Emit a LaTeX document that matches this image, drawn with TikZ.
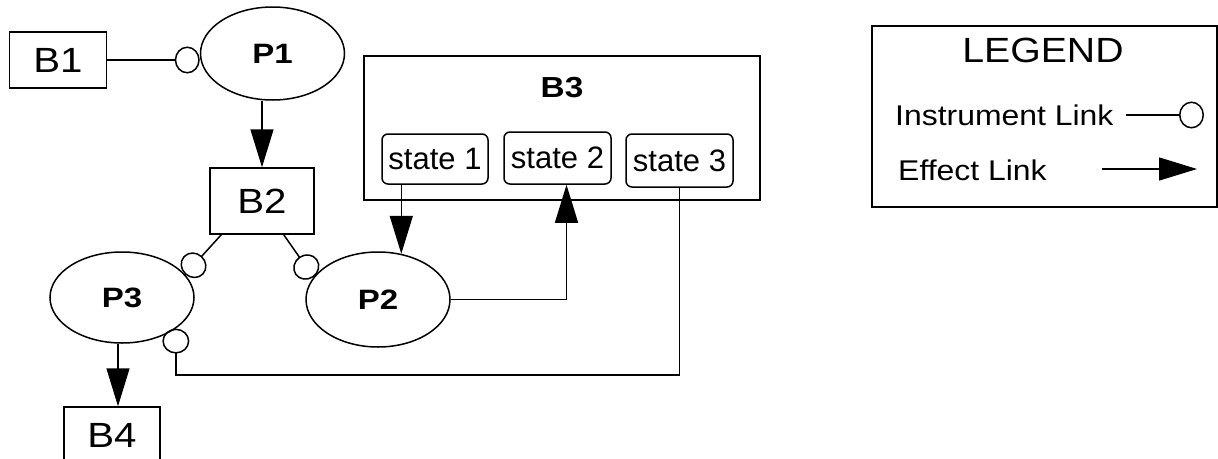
\documentclass[tikz,border=0pt]{standalone}
\usepackage{fontspec}
\setmainfont{Liberation Sans}
\newfontfamily\wideB[FakeStretch=1.15]{Liberation Sans}
\newfontfamily\wideP[FakeStretch=1.18]{Liberation Sans}
\newfontfamily\wideL[FakeStretch=1.12]{Liberation Sans}
\usetikzlibrary{arrows.meta,shapes.geometric,calc}
\newcommand{\fsz}[1]{\fontsize{#1}{#1}\selectfont}
\tikzset{
  ln/.style={line width=1.5pt},
  box/.style={ln, draw, rectangle, inner sep=0pt, font=\wideB\fsz{35}},
  proc/.style={ln, draw, ellipse, inner sep=0pt, minimum width=144pt, font=\wideP\fsz{28}\bfseries},
  stbox/.style={ln, draw, rectangle, rounded corners=6pt, inner sep=0pt, font=\fsz{31}},
  inst/.style={ln, -{Circle[open,length=25pt,width=27pt,line width=1.5pt]}},
  eff/.style={ln, -{Triangle[length=38pt,width=23pt]}},
}
\begin{document}
\begin{tikzpicture}[x=1pt,y=-1pt]
\useasboundingbox (0,0) rectangle (1218,458);
\clip (0,0) rectangle (1218,458);
% objects
\node[box, minimum width=97pt, minimum height=56pt] (B1) at (58,60) {B1};
\node[proc, minimum height=93pt] (P1) at (272.5,53.5) {P1};
\node[box, minimum width=104pt, minimum height=66pt] (B2) at (262,201) {B2};
\node[proc, minimum height=91pt] (P3) at (122,297.5) {P3};
\node[proc, minimum height=95pt] (P2) at (378,299.5) {P2};
\node[box, minimum width=96pt, minimum height=56pt] (B4) at (112,435) {B4};
\node[box, minimum width=396pt, minimum height=144pt] (B3) at (562,128) {};
\node[font=\wideB\fsz{29}\bfseries] (B3t) at (562,88) {B3};
\node[stbox, minimum width=106pt, minimum height=50pt] (s1) at (435,159) {state 1};
\node[stbox, minimum width=107pt, minimum height=52pt] (s2) at (557.5,158) {state 2};
\node[stbox, minimum width=107pt, minimum height=53pt] (s3) at (679.5,160.5) {state 3};
% links
\draw[inst] (B1.east) -- (B1.east -| P1.west);
\draw[eff] (P1.south -| B2.north) -- (B2.north);
\draw[inst] ($(B2.south west)+(12,0)$) -- (P3.20);
\draw[inst] ($(B2.south east)+(-31,0)$) -- (P2.161);
\draw[eff] (s1.south -| P2.63) -- (P2.63);
\draw[eff] (P2.east) -| ($(s2.south)+(9,0)$);
\coordinate (c3y) at (0,375);
\coordinate (c3) at (P3.-30 |- c3y);
\draw[inst] (s3.south) |- (c3) -- (P3.-30);
\coordinate (p3b) at ($(P3.south)+(-4,0)$);
\draw[eff] (p3b) -- (p3b |- B4.north);
% legend
\node[ln, draw, rectangle, inner sep=0pt, minimum width=345pt, minimum height=181pt] (L) at (1044.5,116.5) {};
\node[font=\wideL\fsz{35}] (Lt) at (1043,50) {LEGEND};
\node[font=\wideL\fsz{28.5}, anchor=west, inner sep=0pt] (Li) at (895,115) {Instrument Link};
\node[font=\wideL\fsz{28.5}, anchor=west, inner sep=0pt] (Le) at (898,170) {Effect Link};
\coordinate (li1) at (1126,115);
\coordinate (li2) at (1204,115);
\coordinate (le1) at (1102,169);
\coordinate (le2) at (1197,169);
\draw[inst] (li1) -- (li2);
\draw[eff] (le1) -- (le2);
\end{tikzpicture}
\end{document}
